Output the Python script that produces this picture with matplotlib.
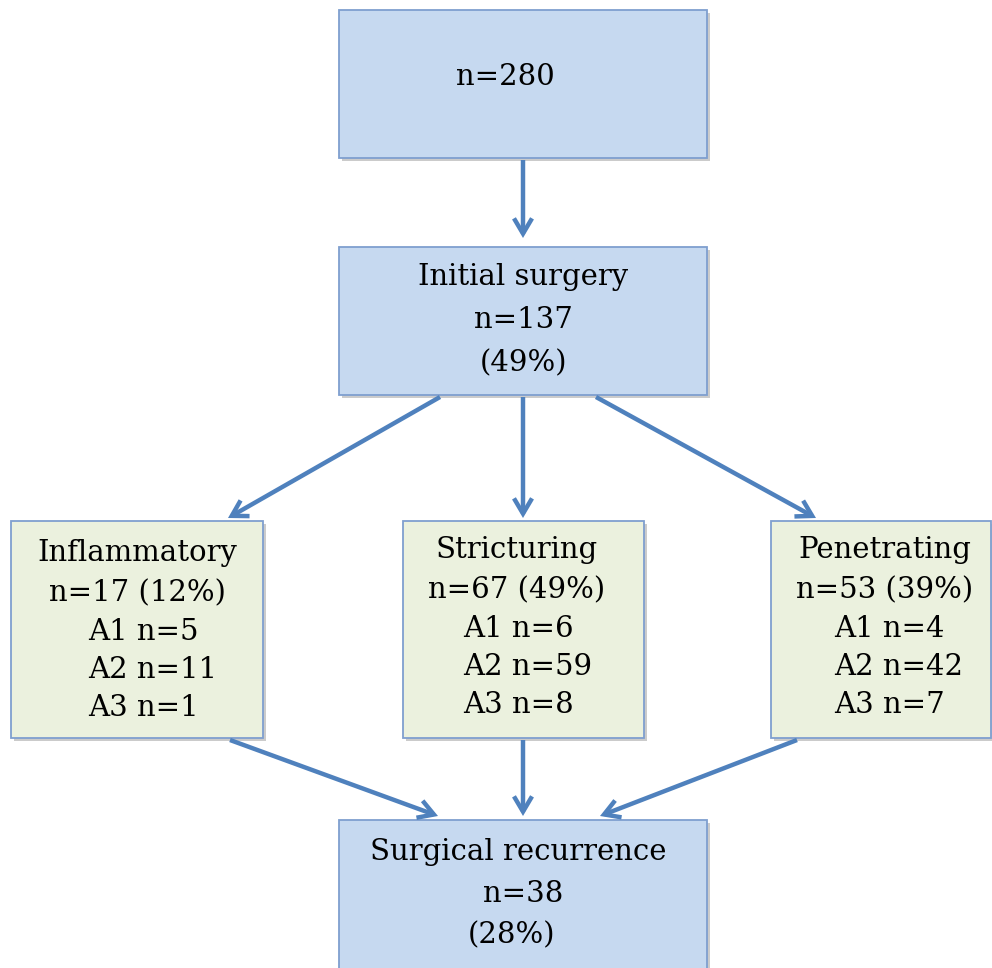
"""
Flow chart: surgery cohort by disease behaviour
"""

import matplotlib
matplotlib.use('Agg')
import matplotlib.pyplot as plt
from matplotlib.patches import Rectangle, FancyArrowPatch
import matplotlib.patheffects as pe

# chart text
TOP_LINES = ["n=280"]
SURGERY_LINES = ["Initial surgery", "n=137", "(49%)"]
BEHAVIOURS = ["Inflammatory", "Stricturing", "Penetrating"]
BEHAVIOUR_N = ["n=17 (12%)", "n=67 (49%)", "n=53 (39%)"]
A1_COUNTS = [5, 6, 4]
A2_COUNTS = [11, 59, 42]
A3_COUNTS = [1, 8, 7]
RECUR_LINES = ["Surgical recurrence", "n=38", "(28%)"]

BLUE_FILL = '#c6d9f0'
GREEN_FILL = '#ebf1de'
EDGE = '#7f9fcf'
ARROW = '#4f81bd'
FONT = 'DejaVu Serif'
FS = 21

fig = plt.figure(figsize=(9.92, 9.68), dpi=100)
ax = fig.add_axes([0, 0, 1, 1])
ax.set_xlim(0, 992)
ax.set_ylim(968, 0)
ax.axis('off')

shadow = [pe.SimplePatchShadow(offset=(2, -2), shadow_rgbFace='#999999', alpha=0.5), pe.Normal()]


def box(x0, y0, x1, y1, fill):
    r = Rectangle((x0, y0), x1 - x0, y1 - y0, facecolor=fill, edgecolor=EDGE, lw=1.3)
    r.set_path_effects(shadow)
    ax.add_patch(r)


def arrow(x0, y0, x1, y1):
    ax.add_patch(FancyArrowPatch((x0, y0), (x1, y1), arrowstyle='->,head_length=11,head_width=6.5',
                                 mutation_scale=1, color=ARROW, lw=3.2, shrinkA=0, shrinkB=0,
                                 joinstyle='miter', capstyle='butt'))


def text(x, y, s, ha='center'):
    ax.text(x, y, s, ha=ha, va='center', fontsize=FS, family=FONT, color='black')


# boxes
box(339, 10, 707, 158, BLUE_FILL)
box(339, 247, 707, 395, BLUE_FILL)
box(11, 521, 263, 738, GREEN_FILL)
box(403, 521, 644, 738, GREEN_FILL)
box(771, 521, 991, 738, GREEN_FILL)
box(339, 820, 707, 990, BLUE_FILL)

# arrows
arrow(523, 160, 523, 238)
arrow(440, 397, 228, 518)
arrow(523, 397, 523, 518)
arrow(596, 397, 816, 518)
arrow(230, 740, 438, 816)
arrow(523, 740, 523, 816)
arrow(797, 740, 600, 816)

# top box
text(505, 77, TOP_LINES[0])

# initial surgery
for i, s in enumerate(SURGERY_LINES):
    text(523, 277 + 43 * i, s)

# behaviour boxes
centres = [137, 517, 885]
a_left = [88, 463, 834]
first_y = [553, 550, 550]
for k in range(3):
    y0 = first_y[k]
    text(centres[k], y0, BEHAVIOURS[k])
    text(centres[k], y0 + 40, BEHAVIOUR_N[k])
    text(a_left[k], y0 + 79, f"A1 n={A1_COUNTS[k]}", ha='left')
    text(a_left[k], y0 + 117, f"A2 n={A2_COUNTS[k]}", ha='left')
    text(a_left[k], y0 + 155, f"A3 n={A3_COUNTS[k]}", ha='left')

# recurrence box
rec_x = [518, 523, 512]
for i, s in enumerate(RECUR_LINES):
    text(rec_x[i], 852 + 41.5 * i, s)

fig.savefig('out.png', dpi=100, facecolor='white')
